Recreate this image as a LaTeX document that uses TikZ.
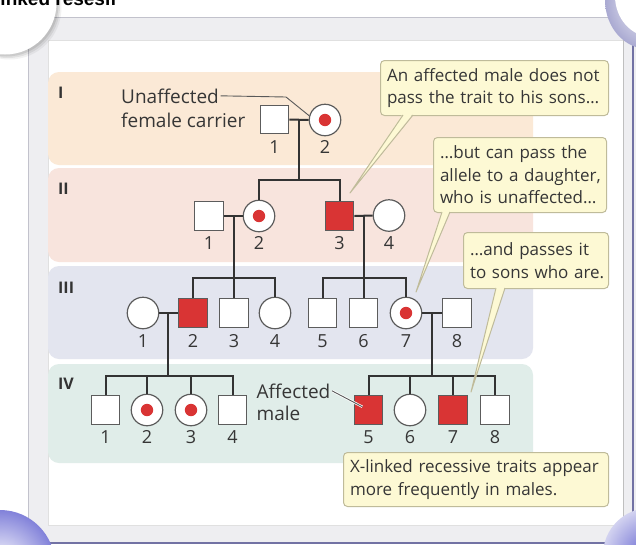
\documentclass[tikz,border=0pt]{standalone}
\usepackage{fontspec}
\setmainfont{Open Sans}
\newfontfamily\headfont{Liberation Sans}

\definecolor{bandI}{HTML}{FBE9D6}
\definecolor{bandII}{HTML}{F8E4DD}
\definecolor{bandIII}{HTML}{E3E5EF}
\definecolor{bandIV}{HTML}{E0EDE9}
\definecolor{affred}{HTML}{D93434}
\definecolor{pedline}{HTML}{333333}
\definecolor{symedge}{HTML}{5C5C5C}
\definecolor{txt}{HTML}{363636}
\definecolor{callfill}{HTML}{FDF9D4}
\definecolor{calledge}{HTML}{BFBB9A}
\definecolor{framegray}{HTML}{EEEEF1}
\definecolor{frameline}{HTML}{C2C2CC}
\definecolor{curlblue}{HTML}{6262D0}
\definecolor{curllav}{HTML}{B4B4E6}

\tikzset{
  male/.style={rectangle, draw=symedge, fill=white, line width=1.2pt,
    minimum size=28.5pt, inner sep=0pt},
  female/.style={circle, draw=symedge, fill=white, line width=1.2pt,
    minimum size=31.5pt, inner sep=0pt},
  affected/.style={fill=affred},
  carrier/.style={path picture={\fill[affred] (path picture bounding box.center) circle (6.2pt);}},
  idlabel/.style={font=\fontsize{18}{20}\selectfont, text=txt, inner sep=0pt},
  pedigree/.style={draw=pedline, line width=2pt},
  band/.style={rounded corners=11pt},
  callout/.style={draw=calledge, fill=callfill, line width=1pt, rounded corners=4pt,
    align=left, inner xsep=6.5pt, inner ysep=0pt, anchor=north west,
    font=\fontsize{17}{22.5}\selectfont, text=txt},
  tailfill/.style={fill=callfill},
  tailedge/.style={draw=calledge, line width=1pt, line join=round},
  genlabel/.style={font=\bfseries\fontsize{16}{16}\selectfont, text=pedline,
    anchor=west, inner sep=0pt},
  notetext/.style={font=\fontsize{19}{22}\selectfont, text=txt, anchor=base west,
    inner xsep=1.5pt, inner ysep=0pt},
  pointer/.style={draw=black!65, line width=0.9pt},
}

\begin{document}
\begin{tikzpicture}[x=1pt, y=-1pt]
\useasboundingbox (0,0) rectangle (636,544);

% page frame
\fill[white] (0,0) rectangle (636,544);
\fill[framegray] (28,17) rectangle (636,544);
\draw[frameline, line width=1pt] (28,544) -- (28,17) -- (636,17);
\fill[white] (48,40) rectangle (623,525);
\draw[black!12, line width=0.8pt] (48,40) rectangle (623,525);
\draw[black!25, line width=0.8pt] (623,40) -- (623,525);
\draw[curlblue!45!gray, line width=1.2pt] (633,17) -- (633,544);
\draw[curlblue!45!gray, line width=1.2pt] (28,543) -- (636,543);

% generation bands
\fill[bandI, band]   (48,72)  rectangle (533,165);
\fill[bandII, band]  (48,168) rectangle (533,262);
\fill[bandIII, band] (48,266) rectangle (533,359);
\fill[bandIV, band]  (48,364) rectangle (533,463);

\node[genlabel] (gI)   at (58,93)    {I};
\node[genlabel] (gII)  at (58,189)   {II};
\node[genlabel] (gIII) at (58,287.5) {III};
\node[genlabel] (gIV)  at (58,383.5) {IV};

% mating points and sibship lines
\coordinate (mI)    at (299,120);
\coordinate (sI)    at (299,180);
\coordinate (mII)   at (234,216);
\coordinate (sIIa)  at (234,278);
\coordinate (mIIb)  at (363.5,216);
\coordinate (sIIb)  at (363.5,278);
\coordinate (mIIIa) at (168,313);
\coordinate (sIIIa) at (168,375.5);
\coordinate (mIIIb) at (432,313);
\coordinate (sIIIb) at (432,375.5);

% generation I
\node[male] (I1) at (274.5,119.5) {};
\node[female, carrier] (I2) at (325,120) {};
% generation II
\node[male] (II1) at (209,216) {};
\node[female, carrier] (II2) at (259,216) {};
\node[male, affected] (II3) at (339.5,216) {};
\node[female] (II4) at (389,215.5) {};
% generation III
\node[female] (III1) at (143,313) {};
\node[male, affected] (III2) at (193,313) {};
\node[male] (III3) at (234,313) {};
\node[female] (III4) at (275,313) {};
\node[male] (III5) at (322.5,313) {};
\node[male] (III6) at (363.5,313) {};
\node[female, carrier] (III7) at (406,313) {};
\node[male] (III8) at (457,313) {};
% generation IV
\node[male] (IV1) at (105.5,410) {};
\node[female, carrier] (IV2) at (147,410) {};
\node[female, carrier] (IV3) at (191,410) {};
\node[male] (IV4) at (232.5,410) {};
\node[male, affected] (IV5) at (368.5,410) {};
\node[female] (IV6) at (410,410) {};
\node[male, affected] (IV7) at (453,410) {};
\node[male] (IV8) at (495,410) {};

% matings, descents and sibships
\draw[pedigree] (I1.east) -- (I2.west);
\draw[pedigree] (mI) -- (sI);
\draw[pedigree] (II2.north) |- (sI) -| (II3.north);

\draw[pedigree] (II1.east) -- (II2.west);
\draw[pedigree] (mII) -- (III3.north);
\draw[pedigree] (III2.north) |- (sIIa) -| (III4.north);

\draw[pedigree] (II3.east) -- (II4.west);
\draw[pedigree] (mIIb) -- (III6.north);
\draw[pedigree] (III5.north) |- (sIIb) -| (III7.north);

\draw[pedigree] (III1.east) -- (III2.west);
\draw[pedigree] (mIIIa) -- (sIIIa);
\draw[pedigree] (IV1.north) |- (sIIIa) -| (IV4.north);
\draw[pedigree] (IV2.north) -- (IV2.north |- sIIIa);
\draw[pedigree] (IV3.north) -- (IV3.north |- sIIIa);

\draw[pedigree] (III7.east) -- (III8.west);
\draw[pedigree] (mIIIb) -- (sIIIb);
\draw[pedigree] (IV5.north) |- (sIIIb) -| (IV8.north);
\draw[pedigree] (IV6.north) -- (IV6.north |- sIIIb);
\draw[pedigree] (IV7.north) -- (IV7.north |- sIIIb);

% individual numbers
\node[idlabel] (nI1) at (274.5,147) {1};
\node[idlabel] (nI2) at (325,147) {2};
\node[idlabel] (nII1) at (209,243) {1};
\node[idlabel] (nII2) at (259,243) {2};
\node[idlabel] (nII3) at (339.5,243) {3};
\node[idlabel] (nII4) at (389,243) {4};
\node[idlabel] (nIII1) at (143,341) {1};
\node[idlabel] (nIII2) at (193,341) {2};
\node[idlabel] (nIII3) at (234,341) {3};
\node[idlabel] (nIII4) at (275,341) {4};
\node[idlabel] (nIII5) at (322.5,341) {5};
\node[idlabel] (nIII6) at (363.5,341) {6};
\node[idlabel] (nIII7) at (406,341) {7};
\node[idlabel] (nIII8) at (457,341) {8};
\node[idlabel] (nIV1) at (105.5,437) {1};
\node[idlabel] (nIV2) at (147,437) {2};
\node[idlabel] (nIV3) at (191,437) {3};
\node[idlabel] (nIV4) at (232.5,437) {4};
\node[idlabel] (nIV5) at (368.5,437) {5};
\node[idlabel] (nIV6) at (410,437) {6};
\node[idlabel] (nIV7) at (453,437) {7};
\node[idlabel] (nIV8) at (495,437) {8};

% annotations with pointers
\node[notetext] (unaff) at (119.5,103.5) {Unaffected};
\node[notetext] (fcar) at (119.5,127.5) {female carrier};
\coordinate (unbend) at (286,97);
\draw[pointer] (unaff.east) ++(0,-0.5) -- (unbend) -- (I2.165);

\node[notetext] (aff) at (255,398) {Affected};
\node[notetext] (male) at (255,420) {male};
\draw[white, line width=2.4pt, shorten >=7pt] (aff.east) -- (IV5.center);
\draw[pointer, shorten >=7pt] (aff.east) -- (IV5.center);

% callouts
\node[callout, minimum width=228pt, text width=215pt, minimum height=55pt] (c1) at (380,60)
  {\mbox{An affected male does not}\\\mbox{pass the trait to his sons…}};
\node[callout, minimum width=173pt, text width=160pt, minimum height=75pt] (c2) at (433,137)
  {\mbox{…but can pass the}\\\mbox{allele to a daughter,}\\\mbox{who is unaffected…}};
\node[callout, minimum width=145pt, text width=132pt, minimum height=56pt] (c3) at (463,232)
  {\mbox{…and passes it}\\\mbox{to sons who are.}};
\node[callout, minimum width=265pt, text width=252pt, minimum height=54pt] (c4) at (343,452)
  {\mbox{X-linked recessive traits appear}\\\mbox{more frequently in males.}};

\coordinate (t1a) at (403,115); \coordinate (t1b) at (413,115); \coordinate (t1) at (350,193);
\coordinate (t2a) at (442,212); \coordinate (t2b) at (450,212); \coordinate (t2) at (416,292);
\coordinate (t3a) at (496,288); \coordinate (t3b) at (505,288); \coordinate (t3) at (471,392);
\foreach \a/\b/\t in {t1a/t1b/t1, t2a/t2b/t2, t3a/t3b/t3}{
  \fill[tailfill] ([yshift=1.5pt]\a) -- (\t) -- ([yshift=1.5pt]\b) -- cycle;
  \draw[tailedge] (\a) -- (\t) -- (\b);
}

% page curls
\fill[black, opacity=0.05] (9.5,7.5) circle (52);
\fill[black, opacity=0.07] (8,6) circle (52);
\fill[black, opacity=0.09] (6.5,4.5) circle (52);
\fill[white] (5,3) circle (51.5);

\shade[inner color=white, outer color=curllav!80!gray] (648,0) ellipse [x radius=43, y radius=49];
\fill[white] (652,-4) ellipse [x radius=37, y radius=41];

\shade[inner color=white, outer color=curlblue!80] (0,565) circle (55);
\shade[inner color=curlblue, outer color=curllav!60] (650,555) circle (47);

% heading fragment at the top edge
\node[anchor=base west, inner sep=0pt, font=\headfont\bfseries\fontsize{19}{19}\selectfont] (head) at (-5,5.5) {linked resesif};
\end{tikzpicture}
\end{document}
